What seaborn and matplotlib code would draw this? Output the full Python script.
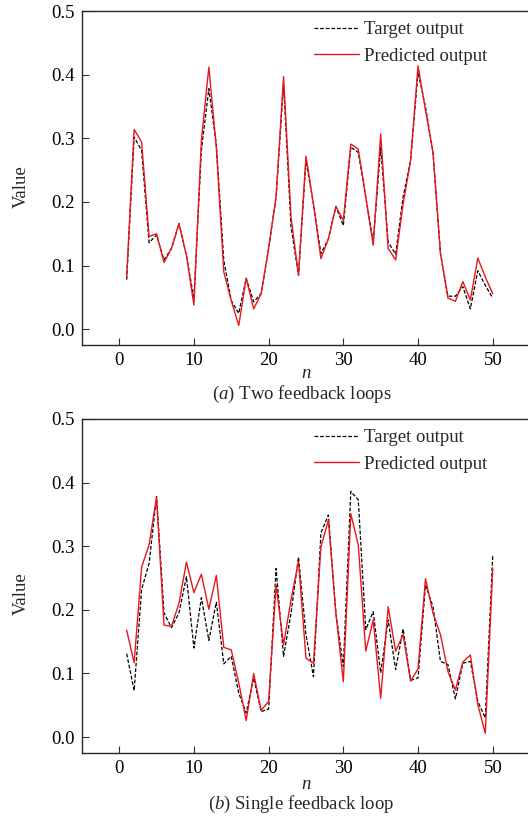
import numpy as np
import pandas as pd
import seaborn as sns
import matplotlib.pyplot as plt

sns.set_style("ticks")
plt.rcParams['font.family'] = ['Liberation Serif', 'DejaVu Serif']
plt.rcParams['mathtext.fontset'] = 'custom'
plt.rcParams['mathtext.rm'] = 'Liberation Serif'
plt.rcParams['mathtext.it'] = 'Liberation Serif:italic'

# sample index
n = list(range(1, 51))

# (a) two feedback loops
target_a = [0.078, 0.302, 0.281, 0.136, 0.148, 0.109, 0.127, 0.166, 0.116, 0.048,
            0.281, 0.378, 0.290, 0.108, 0.045, 0.025, 0.080, 0.043, 0.056, 0.127,
            0.208, 0.386, 0.161, 0.085, 0.265, 0.197, 0.119, 0.142, 0.193, 0.163,
            0.286, 0.278, 0.208, 0.137, 0.286, 0.137, 0.118, 0.208, 0.265, 0.404,
            0.349, 0.278, 0.119, 0.052, 0.052, 0.067, 0.032, 0.092, 0.069, 0.049]
pred_a = [0.082, 0.314, 0.294, 0.146, 0.150, 0.105, 0.127, 0.166, 0.116, 0.038,
          0.297, 0.412, 0.286, 0.090, 0.045, 0.006, 0.080, 0.032, 0.056, 0.127,
          0.208, 0.397, 0.176, 0.085, 0.272, 0.197, 0.111, 0.142, 0.193, 0.171,
          0.291, 0.283, 0.208, 0.132, 0.307, 0.127, 0.109, 0.197, 0.265, 0.414,
          0.344, 0.278, 0.119, 0.049, 0.044, 0.075, 0.046, 0.112, 0.082, 0.056]

# (b) single feedback loop
target_b = [0.131, 0.073, 0.232, 0.273, 0.378, 0.195, 0.172, 0.195, 0.252, 0.140,
            0.219, 0.152, 0.212, 0.115, 0.127, 0.069, 0.038, 0.093, 0.040, 0.044,
            0.265, 0.127, 0.195, 0.283, 0.161, 0.095, 0.321, 0.349, 0.195, 0.111,
            0.386, 0.373, 0.169, 0.197, 0.101, 0.184, 0.106, 0.170, 0.089, 0.093,
            0.239, 0.205, 0.119, 0.114, 0.060, 0.116, 0.119, 0.056, 0.030, 0.286]
pred_b = [0.168, 0.117, 0.267, 0.302, 0.377, 0.176, 0.174, 0.210, 0.275, 0.227,
          0.256, 0.201, 0.254, 0.141, 0.137, 0.085, 0.026, 0.100, 0.042, 0.056,
          0.239, 0.145, 0.216, 0.276, 0.124, 0.116, 0.299, 0.341, 0.195, 0.087,
          0.351, 0.302, 0.135, 0.184, 0.061, 0.205, 0.135, 0.161, 0.088, 0.107,
          0.249, 0.195, 0.161, 0.103, 0.074, 0.118, 0.129, 0.051, 0.006, 0.265]

panels = [("($\\it{a}$) Two feedback loops", target_a, pred_a),
          ("($\\it{b}$) Single feedback loop", target_b, pred_b)]

fs = 13.5

fig = plt.figure(figsize=(5.28, 8.18), dpi=100)
axes = [fig.add_axes([0.155, 0.578, 0.849, 0.4085]),
        fig.add_axes([0.155, 0.0795, 0.849, 0.4083])]

for ax, (caption, target, pred) in zip(axes, panels):
    sns.lineplot(x=n, y=target, ax=ax, color='black', linewidth=0.9,
                 linestyle=(0, (3, 1.5)), label='Target output')
    sns.lineplot(x=n, y=pred, ax=ax, color='#e8171c', linewidth=1.0,
                 label='Predicted output')
    ax.set_xlim(-5, 55)
    ax.set_ylim(-0.025, 0.5)
    ax.set_xticks([0, 10, 20, 30, 40, 50])
    ax.set_yticks([0.0, 0.1, 0.2, 0.3, 0.4, 0.5])
    ax.set_yticklabels(['0.0', '0.1', '0.2', '0.3', '0.4', '0.5'])
    ax.tick_params(direction='in', length=5, width=0.8, labelsize=fs,
                   colors='#333333', labelcolor='black')
    ax.tick_params(axis='x', pad=5)
    ax.tick_params(axis='y', pad=5)
    for s in ax.spines.values():
        s.set_linewidth(1.0)
    ax.set_xlabel('n', fontsize=fs, style='italic')
    ax.xaxis.label.set_va('center')
    ax.set_ylabel('Value', fontsize=fs)
    ax.yaxis.label.set_va('center')
    ax.yaxis.set_label_coords(-0.134, 0.476)
    ax.legend(loc='upper left', bbox_to_anchor=(0.518, 0.97), frameon=False,
              fontsize=fs, handlelength=2.4, handletextpad=0.27,
              borderpad=0, borderaxespad=0, labelspacing=0.5)

axes[0].xaxis.set_label_coords(0.5, -0.084)
axes[1].xaxis.set_label_coords(0.5, -0.093)
axes[0].text(0.49, -0.146, panels[0][0], transform=axes[0].transAxes,
             ha='center', va='center', fontsize=fs)
axes[1].text(0.49, -0.153, panels[1][0], transform=axes[1].transAxes,
             ha='center', va='center', fontsize=fs)

fig.savefig('out.png', dpi=100)
